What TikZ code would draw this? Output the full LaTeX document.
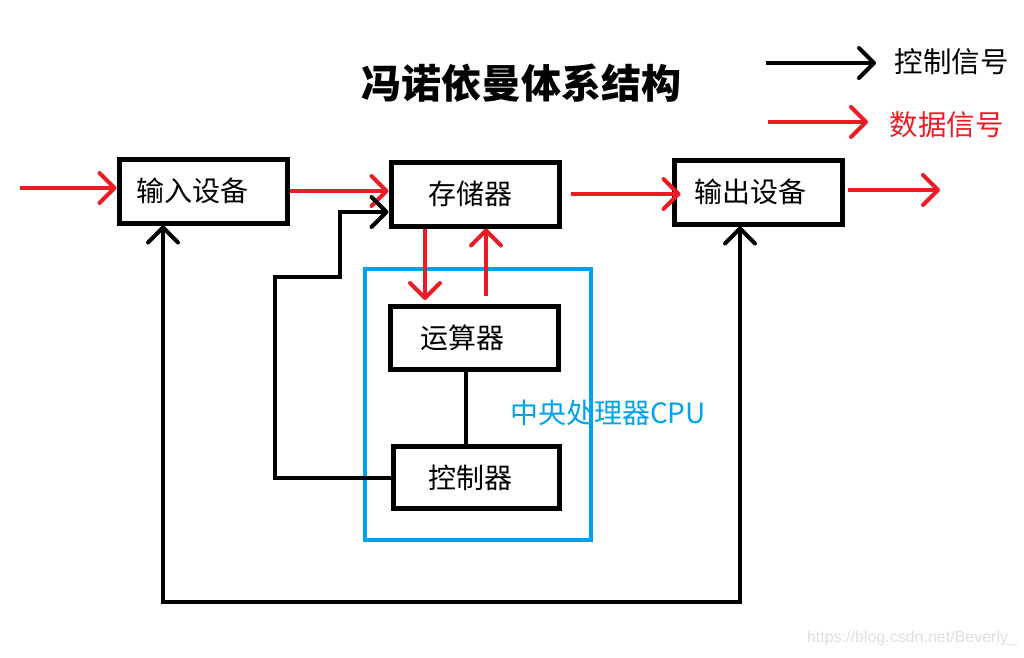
\documentclass[tikz,border=0pt]{standalone}
\usepackage{fontspec}
\newfontfamily\cjk{Noto Sans CJK SC}
\newfontfamily\wmfont{Liberation Sans}
\usetikzlibrary{arrows.meta,calc}
\definecolor{datared}{RGB}{237,28,36}
\definecolor{cpublue}{RGB}{0,162,232}
\tikzset{wire/.style={line width=4pt}}
\tikzset{barb/.tip={Straight Barb[length=15pt,width=30pt,round]}}
\tikzset{ctrl/.style={wire, black, -barb}}
\tikzset{data/.style={wire, datared, -barb}}
\tikzset{unit/.style={draw, line width=5pt, minimum width=168pt, minimum height=64pt, inner sep=0pt, font=\cjk\fontsize{28}{32}\selectfont}}
\tikzset{legend/.style={anchor=west, font=\cjk\fontsize{28.5}{32}\selectfont}}

\begin{document}
\begin{tikzpicture}[x=1pt,y=-1pt]
\useasboundingbox (0,0) rectangle (1024,657);
% title and legend
\node[font=\cjk\bfseries\fontsize{40}{44}\selectfont] (title) at (521,83) {冯诺依曼体系结构};
\coordinate (ka) at (766,63);
\coordinate (kb) at (876,63);
\coordinate (da) at (768,122);
\coordinate (db) at (868,122);
\draw[ctrl] (ka) -- (kb);
\draw[data] (da) -- (db);
\node[legend] (ktext) at (891,62) {控制信号};
\node[legend, text=datared] (dtext) at (886,125) {数据信号};
% units
\node[unit] (in) at (203,191) {\hspace*{-22pt}输入设备};
\node[unit] (mem) at (475,194) {\hspace*{-10pt}存储器};
\node[unit] (out) at (758,192) {\hspace*{-16pt}输出设备};
\node[draw=cpublue, line width=4pt, minimum width=226pt, minimum height=271pt] (cpu) at (478,404.5) {};
\node[unit, minimum height=63pt] (alu) at (474.5,338) {\hspace*{-24pt}运算器};
\node[unit, minimum width=166pt, minimum height=62pt] (ctl) at (476.5,477.5) {\hspace*{-12pt}控制器};
\node[text=cpublue, font=\cjk\fontsize{28}{32}\selectfont] (cpulabel) at (608,413) {中央处理器CPU};
% data signals
\coordinate (src) at (20,188);
\coordinate (sink) at (940,190);
\draw[data] (src) -- (src -| in.west);
\draw[data] (in.east) -- (in.east -| mem.west);
\draw[data] ([xshift=9pt]mem.east) -- ([xshift=9pt]mem.east -| out.west);
\draw[data] ([xshift=3pt]out.east |- sink) -- (sink);
\draw[data, shorten >=4pt] ([xshift=-50pt]mem.south) -- ([xshift=-50pt]mem.south |- alu.north);
\draw[data, shorten <=8pt] ([xshift=11pt]mem.south |- alu.north) -- ([xshift=11pt]mem.south);
% control signals
\draw[wire] ([xshift=-9pt]alu.south) -- ([xshift=-9pt]alu.south |- ctl.north);
\draw[ctrl] (ctl.west) -- (ctl.west -| 275,0) |- (340,277) |- ($(mem.west)+(0,18)$);
\draw[wire, barb-barb] ([xshift=-40pt]in.south) -- ([xshift=-40pt]in.south |- 0,602) -| ([xshift=-18pt]out.south);
% watermark
\node[text=gray!25, font=\wmfont\fontsize{16}{18}\selectfont] (mark) at (912,638) {https://blog.csdn.net/Beverly\_};
\end{tikzpicture}
\end{document}
